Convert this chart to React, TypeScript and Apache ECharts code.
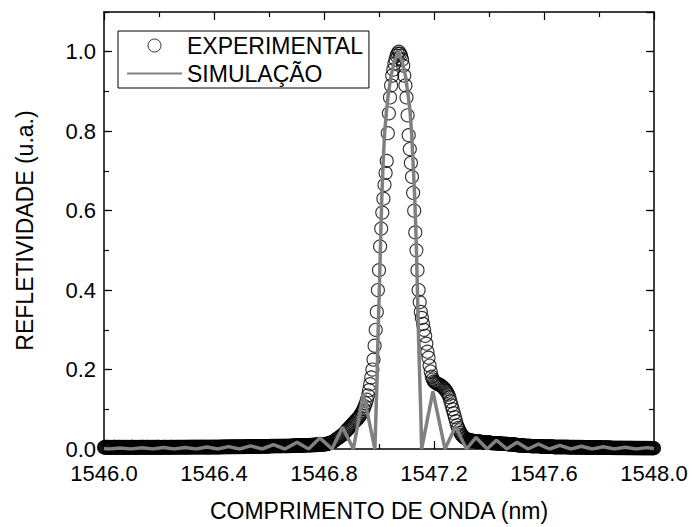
import React, { useEffect, useRef } from "react";
import * as echarts from "echarts";

// ---- axes ----
const X_MIN = 1546.0;
const X_MAX = 1548.0;
const X_INTERVAL = 0.4;
const Y_MIN = 0;
const Y_MAX = 1.1;
const Y_INTERVAL = 0.2;
const Y_MINOR_INTERVAL = 0.1;

const X_TITLE = "COMPRIMENTO DE ONDA (nm)";
const Y_TITLE = "REFLETIVIDADE (u.a.)";
const SERIES_NAMES = ["EXPERIMENTAL", "SIMULAÇÃO"];

// ---- experimental data (reflectivity x1000) on OSA wavelength grid ----
const expSegmentStarts = [1546.0, 1546.564, 1546.82, 1547.324];
const expSegmentSteps = [0.002, 0.002, 0.004, 0.002];

const expLeftBase = [
  4, 5, 4, 3, 4, 5, 5, 4, 3, 4, 4, 5, 4, 4, 3, 4, 5, 4, 4, 5,
  5, 4, 4, 3, 4, 4, 5, 5, 4, 4, 3, 4, 5, 4, 4, 5, 4, 3, 4, 4,
  5, 4, 4, 5, 4, 3, 4, 4, 5, 4, 4, 5, 5, 4, 3, 4, 4, 5, 4, 4,
  4, 3, 4, 5, 4, 4, 5, 4, 4, 4, 5, 5, 4, 3, 4, 4, 5, 4, 4, 5,
  4, 4, 5, 4, 3, 4, 5, 4, 4, 5, 4, 4, 4, 5, 4, 3, 4, 5, 5, 4,
  4, 5, 4, 4, 3, 4, 4, 5, 4, 5, 4, 4, 5, 4, 4, 4, 5, 4, 3, 4,
  5, 4, 4, 5, 5, 4, 4, 4, 5, 4, 4, 5, 4, 4, 5, 5, 4, 4, 5, 4,
  4, 5, 5, 4, 4, 5, 4, 4, 5, 5, 4, 4, 5, 4, 5, 5, 4, 4, 5, 5,
  5, 4, 5, 5, 4, 5, 5, 4, 5, 5, 5, 4, 5, 5, 4, 5, 5, 5, 4, 5,
  5, 5, 4, 5, 5, 5, 4, 5, 5, 4, 5, 5, 4, 5, 5, 5, 4, 5, 5, 5,
  5, 4, 5, 5, 5, 4, 5, 5, 5, 5, 4, 5, 5, 6, 5, 5, 5, 5, 6, 5,
  5, 6, 5, 5, 6, 5, 6, 5, 5, 6, 6, 5, 6, 5, 6, 6, 5, 6, 6, 5,
  6, 5, 6, 6, 6, 5, 6, 6, 5, 6, 6, 6, 6, 5, 6, 6, 6, 6, 6, 6,
  6, 6, 6, 7, 6, 6, 6, 7, 6, 6, 7, 6, 6, 7, 6, 7, 6, 6, 7, 6,
  7, 6,
];

const expLeftShoulder = [
  6, 7, 7, 6, 7, 7, 6, 7, 6, 7, 7, 6, 7, 7, 6, 7, 7, 7, 6, 7,
  7, 7, 8, 7, 7, 7, 8, 7, 7, 8, 7, 7, 8, 7, 7, 8, 7, 8, 7, 7,
  8, 7, 8, 7, 8, 8, 7, 8, 7, 8, 8, 7, 8, 8, 7, 8, 8, 8, 7, 8,
  8, 9, 8, 8, 9, 8, 8, 9, 8, 9, 9, 8, 9, 8, 9, 9, 8, 9, 9, 9,
  9, 9, 10, 9, 9, 10, 9, 10, 10, 9, 10, 10, 10, 9, 10, 10, 10, 11, 10, 10,
  10, 11, 10, 11, 11, 11, 10, 11, 11, 12, 11, 11, 12, 11, 12, 12, 11, 12, 12, 12,
  12, 13, 12, 13, 13, 13, 14, 14,
];

const expPeak = [
  15, 16, 17, 18, 20, 22, 24, 26, 28, 30,
  32, 34, 36, 39, 42, 45, 48, 51, 54, 57,
  60, 63, 66, 69, 72, 75, 78, 81, 85, 90,
  95, 101, 108, 115, 124, 135, 148, 163, 180, 200,
  225, 260, 300, 345, 400, 450, 510, 555, 595, 630,
  665, 695, 725, 795, 845, 885, 915, 940, 955, 970,
  980, 990, 995, 1000, 995, 990, 980, 965, 940, 915,
  885, 840, 790, 755, 720, 685, 645, 600, 545, 500,
  450, 400, 370, 345, 330, 315, 300, 285, 265, 245,
  230, 210, 195, 182, 175, 170, 168, 166, 164, 163,
  162, 160, 158, 156, 153, 150, 146, 142, 137, 130,
  120, 110, 100, 90, 80, 70, 60, 53, 47, 41,
  36, 33, 30, 28, 26, 24,
];

const expRightTail = [
  23, 23, 22, 22, 22, 21, 21, 21, 21, 20, 20, 20, 20, 20, 20, 19, 19, 19, 19, 19,
  19, 18, 18, 18, 18, 18, 17, 17, 17, 17, 17, 17, 17, 16, 16, 16, 16, 16, 16, 16,
  16, 16, 15, 15, 15, 15, 15, 15, 15, 15, 15, 14, 14, 14, 14, 14, 14, 14, 14, 14,
  14, 13, 13, 13, 13, 13, 13, 13, 13, 13, 13, 13, 12, 12, 12, 12, 12, 12, 12, 12,
  12, 12, 11, 11, 11, 11, 11, 11, 10, 10, 10, 10, 9, 9, 9, 9, 9, 9, 9, 9,
  9, 9, 8, 8, 8, 8, 8, 8, 8, 8, 8, 8, 8, 8, 7, 7, 7, 7, 7, 7,
  7, 7, 7, 7, 7, 7, 7, 7, 7, 7, 7, 7, 7, 6, 6, 6, 6, 6, 6, 6,
  6, 6, 6, 6, 6, 6, 6, 6, 6, 6, 6, 6, 6, 6, 6, 6, 5, 5, 5, 5,
  5, 5, 5, 5, 5, 5, 5, 5, 5, 5, 5, 5, 5, 5, 5, 5, 5, 5, 5, 5,
  5, 4, 5, 5, 4, 5, 4, 4, 5, 4, 4, 5, 5, 4, 4, 4, 5, 4, 4, 5,
  4, 4, 4, 5, 4, 4, 4, 4, 5, 4, 4, 4, 4, 3, 4, 4, 4, 4, 3, 4,
  4, 4, 4, 3, 4, 4, 4, 4, 3, 4, 4, 4, 3, 4, 4, 3, 4, 4, 3, 4,
  4, 3, 4, 3, 4, 3, 4, 3, 3, 4, 3, 4, 3, 3, 4, 3, 3, 3, 4, 3,
  3, 3, 3, 3, 2, 3, 3, 3, 3, 2, 3, 3, 3, 2, 3, 3, 3, 2, 3, 3,
  3, 2, 3, 3, 2, 3, 3, 2, 3, 2, 3, 3, 2, 3, 2, 3, 2, 3, 3, 2,
  3, 2, 2, 3, 2, 3, 2, 2, 3, 2, 2, 3, 2, 2, 3, 2, 2, 2, 3, 2,
  2, 2, 3, 2, 2, 2, 3, 2, 2, 2, 2, 3, 2, 2, 2, 2, 2, 2, 2,
];

// ---- simulation ----
const simWavelength = [
  1546.0, 1546.018, 1546.058, 1546.098, 1546.138, 1546.178, 1546.216, 1546.255,
  1546.295, 1546.335, 1546.375, 1546.413, 1546.453, 1546.493, 1546.533, 1546.575,
  1546.616, 1546.658, 1546.702, 1546.744, 1546.785, 1546.829, 1546.867, 1546.907,
  1546.943, 1546.985,
  1546.989, 1546.993, 1546.997, 1547.002, 1547.006, 1547.01, 1547.015, 1547.02,
  1547.027, 1547.034, 1547.044, 1547.056, 1547.07, 1547.084, 1547.096, 1547.105,
  1547.113, 1547.119, 1547.124, 1547.13, 1547.135, 1547.139, 1547.143, 1547.148,
  1547.152, 1547.155,
  1547.196, 1547.24, 1547.278, 1547.318, 1547.353, 1547.393, 1547.427, 1547.465,
  1547.502, 1547.542, 1547.58, 1547.62, 1547.658, 1547.698, 1547.736, 1547.776,
  1547.815, 1547.856, 1547.895, 1547.936, 1547.973, 1548.0,
];
const simReflectivity = [
  0.0015, 0, 0.0025, 0, 0.003, 0, 0.0035, 0,
  0.004, 0, 0.005, 0, 0.006, 0, 0.008, 0,
  0.011, 0, 0.017, 0, 0.028, 0, 0.055, 0,
  0.14, 0,
  0.09, 0.18, 0.3, 0.42, 0.53, 0.63, 0.72, 0.79,
  0.85, 0.895, 0.94, 0.975, 1.0, 0.975, 0.94, 0.895,
  0.85, 0.79, 0.72, 0.63, 0.53, 0.42, 0.3, 0.18,
  0.09, 0,
  0.145, 0, 0.056, 0, 0.029, 0, 0.022, 0,
  0.017, 0, 0.0125, 0, 0.009, 0, 0.007, 0,
  0.0055, 0, 0.0045, 0, 0.0035, 0.001,
];

const FONT = "'Liberation Sans', Arial, Helvetica, sans-serif";
const BLACK = "#000";
const GRAY = "#808080";

function buildExperimental(): [number, number][] {
  const segs = [expLeftBase, expLeftShoulder, expPeak, expRightTail];
  const out: [number, number][] = [];
  segs.forEach((vals, s) => {
    vals.forEach((v, k) => {
      out.push([+(expSegmentStarts[s] + k * expSegmentSteps[s]).toFixed(4), v / 1000]);
    });
  });
  return out;
}

function buildSimulation(): [number, number][] {
  return simWavelength.map((w, i) => [w, simReflectivity[i]]);
}

export default function App() {
  const ref = useRef<HTMLDivElement>(null);

  useEffect(() => {
    if (!ref.current) return;
    const chart = echarts.init(ref.current, null, { renderer: "svg" });

    const axisLine = { show: true, onZero: false, lineStyle: { color: BLACK, width: 1.5 } };
    const majorTick = { show: true, inside: true, length: 8, lineStyle: { color: BLACK, width: 1.2 } };
    const minorTick = { show: true, inside: true, length: 5, lineStyle: { color: BLACK, width: 1.2 } };

    const xCommon = {
      type: "value",
      min: X_MIN,
      max: X_MAX,
      interval: X_INTERVAL,
      splitLine: { show: false },
      minorTick: { show: true, splitNumber: 2, length: 5, lineStyle: { color: BLACK, width: 1.2 } },
      minorSplitLine: { show: false },
      axisLine,
      axisTick: majorTick,
    };

    const option: any = {
      animation: false,
      backgroundColor: "#fff",
      grid: { left: 104, right: 39, top: 12, bottom: 75, containLabel: false },
      legend: {
        orient: "vertical",
        left: 118,
        top: 31,
        itemWidth: 55,
        itemHeight: 13,
        itemGap: 5,
        padding: [3, 6, 3, 8],
        borderColor: BLACK,
        borderWidth: 1,
        backgroundColor: "#fff",
        textStyle: { fontSize: 23, color: BLACK, fontFamily: FONT },
        data: [
          {
            name: SERIES_NAMES[0],
            icon: "circle",
            itemStyle: { color: "rgba(0,0,0,0)", borderColor: BLACK, borderWidth: 1 },
          },
          { name: SERIES_NAMES[1], itemStyle: { opacity: 0 } },
        ],
      },
      xAxis: [
        {
          ...xCommon,
          position: "bottom",
          axisLabel: {
            show: true,
            fontSize: 22,
            color: BLACK,
            fontFamily: FONT,
            margin: 13,
            formatter: (v: number) => v.toFixed(1),
          },
          name: X_TITLE,
          nameLocation: "middle",
          nameGap: 50,
          nameTextStyle: { fontSize: 23, color: BLACK, fontFamily: FONT },
        },
        {
          ...xCommon,
          position: "top",
          axisLabel: { show: false },
        },
      ],
      yAxis: [
        {
          type: "value",
          position: "left",
          min: Y_MIN,
          max: Y_MAX,
          interval: Y_INTERVAL,
          splitLine: { show: false },
          axisLine,
          axisTick: majorTick,
          axisLabel: {
            show: true,
            fontSize: 22,
            color: BLACK,
            fontFamily: FONT,
            margin: 8,
            showMaxLabel: false,
            formatter: (v: number) => (v > 1.05 ? "" : v.toFixed(1)),
          },
          name: Y_TITLE,
          nameLocation: "middle",
          nameGap: 68,
          nameTextStyle: { fontSize: 23, color: BLACK, fontFamily: FONT },
        },
        {
          type: "value",
          position: "left",
          min: Y_MIN,
          max: Y_MAX,
          interval: Y_MINOR_INTERVAL,
          splitLine: { show: false },
          axisLine: { show: false, onZero: false },
          axisTick: minorTick,
          axisLabel: { show: false },
        },
        {
          type: "value",
          position: "right",
          min: Y_MIN,
          max: Y_MAX,
          interval: Y_INTERVAL,
          splitLine: { show: false },
          axisLine,
          axisTick: majorTick,
          axisLabel: { show: false },
        },
        {
          type: "value",
          position: "right",
          min: Y_MIN,
          max: Y_MAX,
          interval: Y_MINOR_INTERVAL,
          splitLine: { show: false },
          axisLine: { show: false, onZero: false },
          axisTick: minorTick,
          axisLabel: { show: false },
        },
      ],
      series: [
        {
          name: SERIES_NAMES[0],
          type: "scatter",
          xAxisIndex: 0,
          yAxisIndex: 0,
          data: buildExperimental(),
          symbol: "circle",
          symbolSize: 13,
          clip: true,
          itemStyle: { color: "rgba(0,0,0,0)", borderColor: BLACK, borderWidth: 1.15 },
          emphasis: { disabled: true },
          z: 2,
        },
        {
          name: SERIES_NAMES[1],
          type: "line",
          xAxisIndex: 0,
          yAxisIndex: 0,
          data: buildSimulation(),
          symbol: "none",
          showSymbol: false,
          smooth: false,
          clip: true,
          lineStyle: { color: GRAY, width: 3.5 },
          itemStyle: { color: GRAY },
          emphasis: { disabled: true },
          z: 3,
        },
      ],
    };

    chart.setOption(option);
    return () => chart.dispose();
  }, []);

  return (
    <div
      ref={ref}
      style={{ position: "absolute", left: 0, top: 0, width: 693, height: 527, background: "#fff" }}
    />
  );
}
